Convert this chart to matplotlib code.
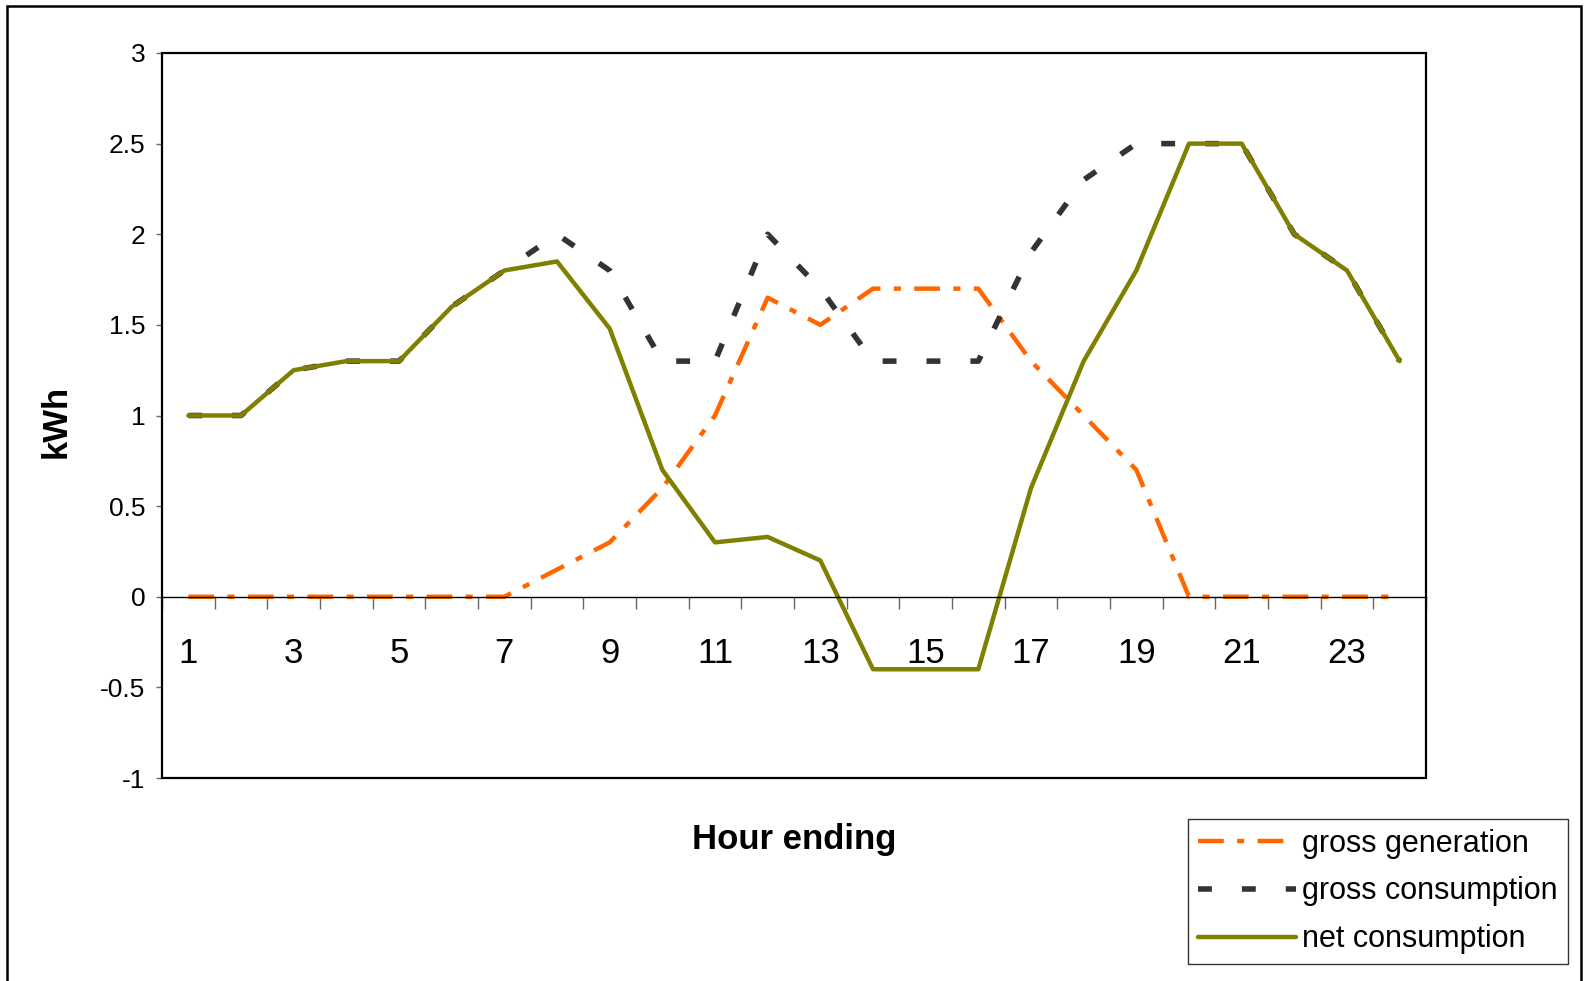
import numpy as np
import matplotlib.pyplot as plt
from matplotlib.patches import Rectangle

plt.rcParams['font.family'] = ['Liberation Sans', 'DejaVu Sans']

# hourly data (hour ending 1..24), kWh
hours = list(range(1, 25))
gross_generation = [0, 0, 0, 0, 0, 0, 0, 0.15, 0.3, 0.6, 1.0, 1.65,
                    1.5, 1.7, 1.7, 1.7, 1.3, 1.0, 0.7, 0, 0, 0, 0, 0]
gross_consumption = [1.0, 1.0, 1.25, 1.3, 1.3, 1.6, 1.8, 2.0, 1.8, 1.3, 1.3, 2.0,
                     1.7, 1.3, 1.3, 1.3, 1.9, 2.3, 2.5, 2.5, 2.5, 2.0, 1.8, 1.3]
net_consumption = [1.0, 1.0, 1.25, 1.3, 1.3, 1.6, 1.8, 1.85, 1.48, 0.7, 0.3, 0.33,
                   0.2, -0.4, -0.4, -0.4, 0.6, 1.3, 1.8, 2.5, 2.5, 2.0, 1.8, 1.3]
y_ticks = [-1, -0.5, 0, 0.5, 1, 1.5, 2, 2.5, 3]
y_labels = ['-1', '-0.5', '0', '0.5', '1', '1.5', '2', '2.5', '3']

W, H = 1588, 981
fig = plt.figure(figsize=(W / 100, H / 100), dpi=100)
fig.patch.set_facecolor('white')

# plot area in pixels: left 162, right 1426, top 53, bottom 778
ax = fig.add_axes([162 / W, 1 - 778 / H, (1426 - 162) / W, (778 - 53) / H])

ax.plot(hours, gross_generation, color='#FF6600', lw=3.2,
        dashes=(5.8, 3.0, 1.6, 3.0), label='gross generation')
ax.plot(hours, gross_consumption, color='#333333', lw=4.0,
        dashes=(2.5, 5.4), label='gross consumption')
ax.plot(hours, net_consumption, color='#808000', lw=3.2,
        solid_capstyle='round', label='net consumption')

ax.set_xlim(0.5, 24.5)
ax.set_ylim(-1, 3)

# category axis crosses at zero
for side in ['top', 'right', 'left']:
    ax.spines[side].set_visible(False)
ax.spines['bottom'].set_position(('data', 0))
ax.spines['bottom'].set_linewidth(1.0)
ax.add_patch(Rectangle((0, 0), 1, 1, transform=ax.transAxes, fill=False,
                       edgecolor='black', lw=1.6, clip_on=False, zorder=5))

ax.set_xticks(np.arange(0.5, 25, 1))
ax.set_xticklabels([])
ax.tick_params(axis='x', which='major', length=8.6, width=1.0, color='#666666')
ax.set_xticks(hours[::2], minor=True)
ax.set_xticklabels([str(h) for h in hours[::2]], minor=True, fontsize=25)
ax.tick_params(axis='x', which='minor', length=0, pad=29)

ax.set_yticks(y_ticks)
ax.set_yticklabels(y_labels, fontsize=19)
ax.tick_params(axis='y', length=4, width=1.0, color='#666666', pad=8)

fig.text(56 / W, 1 - 421 / H, 'kWh', rotation=90, fontsize=25,
         fontweight='bold', ha='center', va='center')
fig.text(794 / W, 1 - 840 / H, 'Hour ending', fontsize=25,
         fontweight='bold', ha='center', va='center')

leg = fig.legend(loc='upper left', bbox_to_anchor=(1188 / W, 1 - 819 / H),
                 fontsize=22, frameon=True, fancybox=False, edgecolor='black',
                 handlelength=3.2, handletextpad=0.22, labelspacing=0.58,
                 borderpad=0.32, borderaxespad=0)
leg.get_frame().set_linewidth(1.0)

# outer chart border (bottom edge runs off the image)
fig.patches.append(Rectangle((7 / W, -0.05), (1581 - 7) / W, 1.05 - 6 / H,
                             transform=fig.transFigure, fill=False,
                             edgecolor='black', lw=1.8))

fig.savefig('out.png', dpi=100)
